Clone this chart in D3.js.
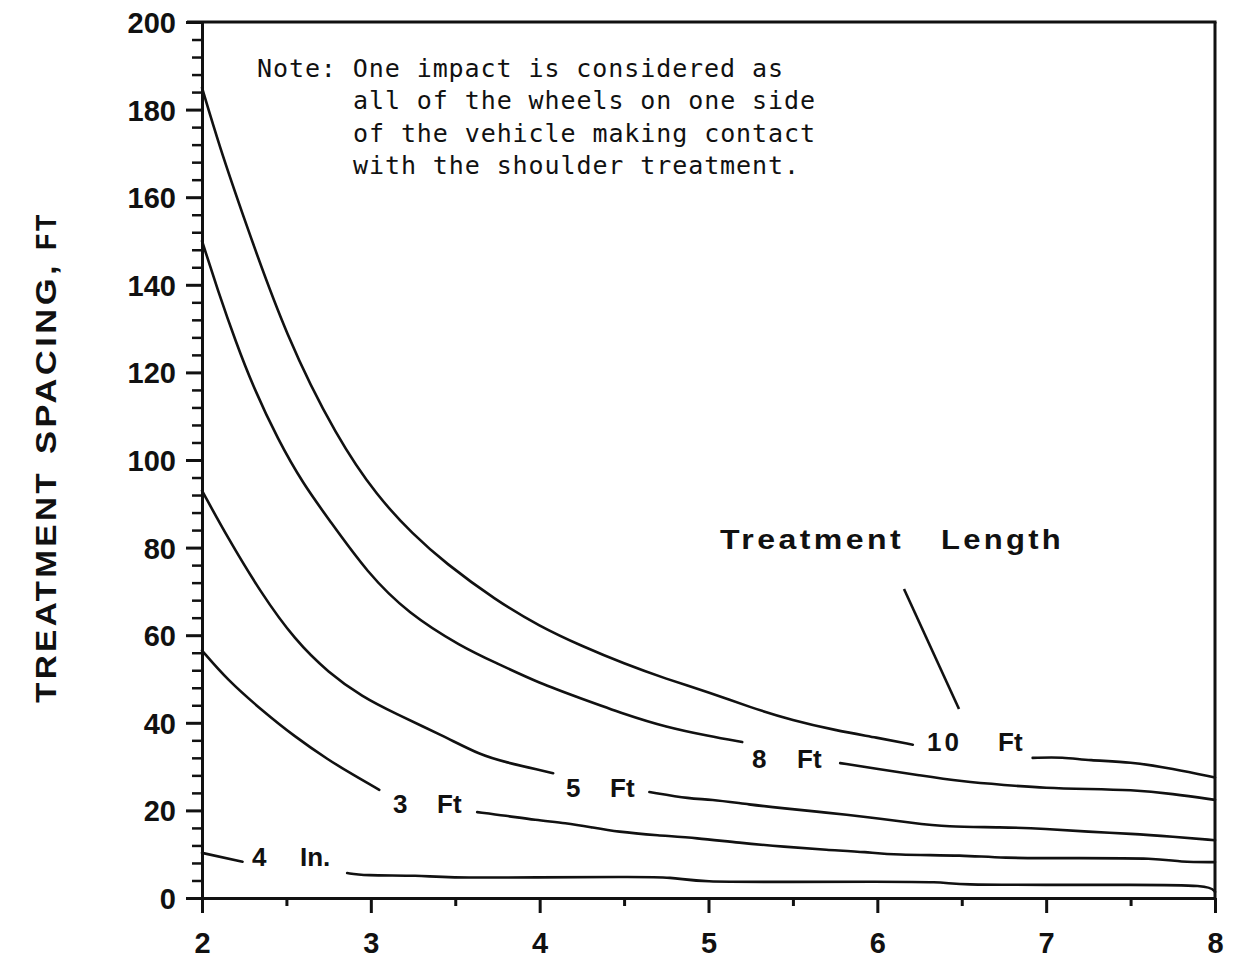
<!DOCTYPE html>
<html><head><meta charset="utf-8">
<script src="https://cdn.jsdelivr.net/npm/d3@7"></script>
<style>body{margin:0;background:#fff}svg{display:block}</style>
</head><body><svg id="c" width="1233" height="958"></svg>
<script>
// ---------- data ----------
const xTickValues = [2, 3, 4, 5, 6, 7, 8];
const xMinorTickValues = [2.5, 3.5, 4.5, 5.5, 6.5, 7.5];
const yTickValues = [0, 20, 40, 60, 80, 100, 120, 140, 160, 180, 200];
const yMinorTickValues = [4, 8, 12, 16, 24, 28, 32, 36, 44, 48, 52, 56, 64, 68, 72, 76, 84, 88, 92, 96,
  104, 108, 112, 116, 124, 128, 132, 136, 144, 148, 152, 156, 164, 168, 172, 176, 184, 188, 192, 196];

const seriesNames = ["10 Ft", "8 Ft", "5 Ft", "3 Ft", "4 In."];
const spacing10ft = [[2.0,185],[2.1,172],[2.25,155],[2.5,128],[2.8,105],[3.04,91.6],[3.25,83],[3.44,76.5],[3.74,68],[4.0,62],[4.25,57.5],[4.5,53.5],[4.75,50],[5.0,47],[5.25,43.5],[5.5,40.5],[5.75,38.3],[6.0,36.6],[6.21,35],null,[6.92,32],[7.1,32.2],[7.25,31.4],[7.5,31.1],[7.75,29.5],[8.0,27.5]];
const spacing8ft = [[2.0,150],[2.1,138],[2.2,127],[2.3,117],[2.45,104.6],[2.6,94.5],[2.75,86.5],[2.98,74.2],[3.22,65],[3.54,57.3],[3.74,53.7],[4.0,49],[4.25,45.5],[4.5,42],[4.75,39],[5.0,37],[5.2,35.6],null,[5.78,30.8],[6.0,29.5],[6.25,28],[6.5,26.6],[6.75,25.8],[7.0,25.1],[7.25,24.9],[7.5,24.7],[7.75,23.8],[8.0,22.4]];
const spacing5ft = [[2.0,93],[2.15,82.4],[2.35,69.6],[2.55,58.9],[2.75,51.4],[2.95,45.9],[3.14,42.2],[3.44,36.8],[3.65,32.6],[3.8,31],[4.0,29.2],[4.08,28.5],null,[4.65,24.2],[4.9,22.6],[5.0,22.6],[5.25,21.3],[5.44,20.5],[5.7,19.5],[5.94,18.5],[6.2,17.2],[6.41,16.2],[6.73,16.2],[7.0,15.8],[7.25,15.1],[7.5,14.7],[7.75,14],[8.0,13.2]];
const spacing3ft = [[2.0,56.5],[2.15,49.8],[2.35,43],[2.55,36.8],[2.75,31.5],[2.9,28],[3.05,24.7],null,[3.63,19.6],[3.8,18.8],[3.97,17.8],[4.16,17.1],[4.3,16.2],[4.46,15.1],[4.7,14.3],[4.93,13.7],[5.18,12.6],[5.45,11.7],[5.7,11],[5.94,10.5],[6.09,9.8],[6.53,9.8],[6.71,9.1],[7.2,9.1],[7.66,9.1],[7.79,8.2],[8.0,8.2]];
const spacing4in = [[2.0,10.3],[2.24,8.3],null,[2.86,5.7],[2.95,5.1],[3.3,5.2],[3.42,4.6],[4.0,4.7],[4.5,4.8],[4.8,4.8],[4.93,3.6],[5.5,3.7],[6.0,3.7],[6.38,3.7],[6.48,3.0],[7.0,3.0],[7.5,3.0],[7.97,3.0],[8.0,1.4]];
const allSeries = [spacing10ft, spacing8ft, spacing5ft, spacing3ft, spacing4in];

const noteLines = ["Note: One impact is considered as", "all of the wheels on one side", "of the vehicle making contact", "with the shoulder treatment."];
const yAxisTitleWords = ["TREATMENT", "SPACING,", "FT"];
const legendTitle = ["Treatment", "Length"];

// ---------- layout (positions / styles) ----------
const W = 1233, H = 958;
const plot = {left: 202, right: 1215, top: 22, bottom: 898};
const boldFont = "'Liberation Sans', Arial, Helvetica, sans-serif";
const monoFont = "'DejaVu Sans Mono', 'Liberation Mono', monospace";
const labelLayout = [ // label number x, unit x, baseline y (pixels)
  {num: "10", unit: "Ft", x: 927, ux: 998, y: 751},
  {num: "8",  unit: "Ft", x: 752, ux: 797, y: 768},
  {num: "5",  unit: "Ft", x: 566, ux: 610, y: 797},
  {num: "3",  unit: "Ft", x: 393, ux: 437, y: 813},
  {num: "4",  unit: "In.", x: 252, ux: 300, y: 866}
];
const titleWordLayout = [ // screen y where word starts (bottom) and its length
  {y0: 703, len: 233}, {y0: 454, len: 192}, {y0: 250, len: 38}
];

const svg = d3.select("#c");
svg.append("rect").attr("width", W).attr("height", H).attr("fill", "#fff");

const x = d3.scaleLinear().domain([2, 8]).range([plot.left, plot.right]);
const y = d3.scaleLinear().domain([0, 200]).range([plot.bottom, plot.top]);

// frame: top and right
svg.append("line").attr("x1", 187).attr("x2", x(8) + 1.5).attr("y1", y(200)).attr("y2", y(200))
  .attr("stroke", "#111").attr("stroke-width", 3);
svg.append("line").attr("x1", x(8)).attr("x2", x(8)).attr("y1", y(200)).attr("y2", y(0) + 1.5)
  .attr("stroke", "#111").attr("stroke-width", 3);

// y axis minor ticks
svg.append("g").attr("transform", `translate(${plot.left},0)`)
  .call(d3.axisLeft(y).tickValues(yMinorTickValues).tickSize(10).tickFormat(""))
  .call(g => g.select(".domain").remove())
  .call(g => g.selectAll(".tick line").attr("stroke", "#111").attr("stroke-width", 2.5));
// y axis major
svg.append("g").attr("transform", `translate(${plot.left},0)`)
  .call(d3.axisLeft(y).tickValues(yTickValues).tickSize(16).tickPadding(10).tickSizeOuter(0))
  .call(g => g.select(".domain").attr("stroke", "#111").attr("stroke-width", 3))
  .call(g => g.selectAll(".tick line").attr("stroke", "#111").attr("stroke-width", 3))
  .call(g => g.selectAll(".tick text").attr("font-family", boldFont).attr("font-weight", "bold")
    .attr("font-size", 29).attr("fill", "#111").attr("dy", "0.36em"));

// x axis minor
svg.append("g").attr("transform", `translate(0,${plot.bottom})`)
  .call(d3.axisBottom(x).tickValues(xMinorTickValues).tickSize(8).tickFormat(""))
  .call(g => g.select(".domain").remove())
  .call(g => g.selectAll(".tick line").attr("stroke", "#111").attr("stroke-width", 3));
// x axis major
svg.append("g").attr("transform", `translate(0,${plot.bottom})`)
  .call(d3.axisBottom(x).tickValues(xTickValues).tickSize(15).tickPadding(19).tickSizeOuter(0).tickFormat(d3.format("d")))
  .call(g => g.select(".domain").attr("stroke", "#111").attr("stroke-width", 3))
  .call(g => g.selectAll(".tick text").attr("font-family", boldFont).attr("font-weight", "bold")
    .attr("font-size", 29).attr("fill", "#111"))
  .call(g => g.selectAll(".tick line").attr("stroke", "#111").attr("stroke-width", 3));

// y axis title (rotated, word by word)
const yt = svg.append("g").attr("transform", "translate(56,0) rotate(-90)")
  .attr("font-family", boldFont).attr("font-weight", "bold").attr("font-size", 30).attr("fill", "#111")
  .attr("letter-spacing", 3);
yAxisTitleWords.forEach((w, i) => {
  yt.append("text").attr("x", -titleWordLayout[i].y0).attr("y", 0)
    .attr("textLength", titleWordLayout[i].len).attr("lengthAdjust", "spacingAndGlyphs").text(w);
});

// curves
const line = d3.line()
  .defined(d => d !== null)
  .x(d => x(d[0])).y(d => y(d[1]))
  .curve(d3.curveBasis);
svg.append("g").selectAll("path").data(allSeries).join("path")
  .attr("d", line)
  .attr("fill", "none").attr("stroke", "#111").attr("stroke-width", 2.6)
  .attr("stroke-linejoin", "round").attr("stroke-linecap", "round");

// curve labels
const lab = svg.append("g").attr("font-family", boldFont).attr("font-weight", "bold")
  .attr("font-size", 26).attr("fill", "#111");
labelLayout.forEach(l => {
  lab.append("text").attr("x", l.x).attr("y", l.y).attr("letter-spacing", l.num.length > 1 ? 3 : 0).text(l.num);
  lab.append("text").attr("x", l.ux).attr("y", l.y).text(l.unit);
});

// legend title + leader
const lt = svg.append("g").attr("font-family", boldFont).attr("font-weight", "bold")
  .attr("font-size", 28).attr("fill", "#111").attr("letter-spacing", 3);
lt.append("text").attr("x", 720).attr("y", 549).attr("textLength", 184).attr("lengthAdjust", "spacingAndGlyphs").text(legendTitle[0]);
lt.append("text").attr("x", 941).attr("y", 549).attr("textLength", 123).attr("lengthAdjust", "spacingAndGlyphs").text(legendTitle[1]);
svg.append("line").attr("x1", 904).attr("y1", 589).attr("x2", 959).attr("y2", 709)
  .attr("stroke", "#111").attr("stroke-width", 2.6);

// note
const note = svg.append("g").attr("font-family", monoFont).attr("font-size", 25).attr("fill", "#111");
noteLines.forEach((t, i) => {
  const x0 = i === 0 ? 257 : 353;
  note.append("text").attr("x", x0).attr("y", 77 + i * 32.3)
    .attr("textLength", t.length * 16 - 2).attr("lengthAdjust", "spacing").text(t);
});
</script>
</body></html>
